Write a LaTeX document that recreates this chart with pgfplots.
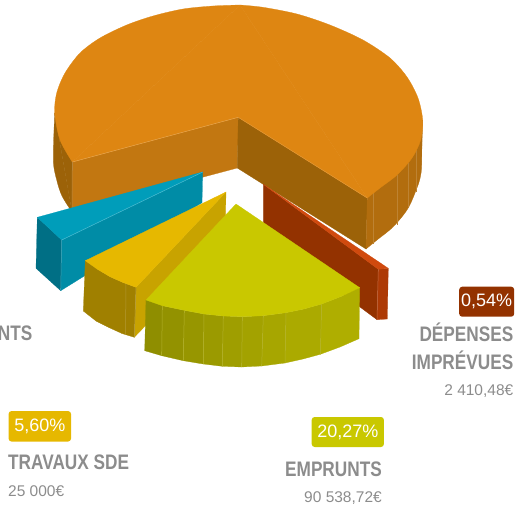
\documentclass[border=0pt]{standalone}
\usepackage{pgfplots}
\pgfplotsset{compat=1.18}
\usepackage{fontspec}
\setmainfont{Liberation Sans}
\newfontfamily\lblfont[FakeStretch=0.82]{Liberation Sans}
\definecolor{org}{HTML}{DE8612}
\definecolor{orgA}{HTML}{C27711}
\definecolor{orgB}{HTML}{9C6208}
\definecolor{orgC}{HTML}{B26D0E}
\definecolor{tlA}{HTML}{009DBA}
\definecolor{tlB}{HTML}{008CA6}
\definecolor{tlC}{HTML}{006F85}
\definecolor{ylA}{HTML}{E6B800}
\definecolor{ylB}{HTML}{C8A300}
\definecolor{ylC}{HTML}{A08000}
\definecolor{rdA}{HTML}{933200}
\definecolor{rdB}{HTML}{D04A0E}
\definecolor{rdC}{HTML}{AD3A05}
\definecolor{grA}{HTML}{C9C800}
\definecolor{txt}{HTML}{8C8C8C}
\newcommand{\lb}{\lblfont\bfseries\fontsize{21}{24}\selectfont\color{txt}}
\newcommand{\vl}{\fontsize{15.5}{18}\selectfont\color{txt}}
\newcommand{\pc}{\fontsize{18}{20}\selectfont\color{white}}
\begin{document}
\begin{tikzpicture}
\begin{axis}[
  name=pie,
  hide axis, scale only axis, width=515pt, height=506pt,
  xmin=0, xmax=515, ymin=0, ymax=506, y dir=reverse,
  clip=false, no markers,
  poly/.style={draw=#1, fill=#1, line width=0.25pt, forget plot, line join=round},
  seam/.style={draw=#1, line width=0.5pt, forget plot}
]
\addplot[draw=none, forget plot] coordinates {(0,0) (515,506)};
% ORANGE: walls
\addplot[poly=orgB, smooth] coordinates {(54.7,113) (53.3,160) (56.7,180) (62,196) (72,212)} -- cycle;
\addplot[poly=orgB] coordinates {(54.7,113) (72.3,162) (72,212)} -- cycle;
\addplot[poly=orgA] coordinates {(72.3,162) (238.3,117.3) (237.3,168) (72,212)} -- cycle;
\addplot[poly=orgB] coordinates {(238.3,117.3) (367.3,198) (366,249) (237.3,168)} -- cycle;
\addplot[poly=orgC] coordinates {(422.7,120) (367.3,198) (366,249) (421,173)} -- cycle;
\addplot[poly=orgC, smooth] coordinates {(366,249) (377,240) (393,227) (407,210) (415,193) (421,173) (422,133)} -- cycle;
\addplot[seam=orgC!85!white] coordinates {(373,193) (373,244)};
\addplot[seam=orgC!85!white] coordinates {(397,175) (397,225)};
\addplot[seam=orgC!85!white] coordinates {(408,163) (408,208)};
\addplot[seam=orgC!85!white] coordinates {(416,150) (416,192)};
% ORANGE: top, with the cut at the centre
\addplot[poly=org] coordinates {(72.3,162) (240,5) (367.3,198) (238.3,117.3)} -- cycle;
\addplot[poly=org, smooth] coordinates {(72.3,162) (60,140) (54.7,113) (56.7,93) (65,73) (80,53) (100,38) (126.7,25) (153,16) (183,9) (213,6) (240,5)} -- cycle;
\addplot[poly=org, smooth] coordinates {(240,5) (263,7.3) (297,14) (330,25) (363,40) (390,58) (407,77) (418,98) (422.7,120) (420.7,140) (412,158) (397,175) (380,188) (367.3,198)} -- cycle;
\addplot[seam=org!75!white] coordinates {(72.3,162) (238.3,117.3)};
\addplot[seam=org!85!white] coordinates {(238.3,117.3) (367.3,198)};
\addplot[seam=orgB!75!white] coordinates {(72.3,162) (72,212)};
% TEAL
\addplot[poly=tlB] coordinates {(61.7,240) (202.7,172) (202,202.7) (60.7,290.7)} -- cycle;
\addplot[poly=tlC] coordinates {(37.3,217.3) (61.7,240) (60.7,290.7) (36,268.3)} -- cycle;
\addplot[poly=tlA] coordinates {(202.7,172) (37.3,217.3) (61.7,240)} -- cycle;
\addplot[seam=tlA!70!white] coordinates {(61.7,240) (202.7,172)};
\addplot[seam=tlB!75!white] coordinates {(61.7,240) (60.7,290.7)};
% YELLOW
\addplot[poly=ylB] coordinates {(226,192) (136,287.3) (134.3,337.3) (225,243)} -- cycle;
\addplot[poly=ylC] coordinates {(85.3,260.7) (97,269) (110,276.7) (123,282.5) (136,287.3) (134.3,337.3) (122,333.5) (110,328) (96,321) (83.3,311)} -- cycle;
\addplot[seam=ylC!80!white] coordinates {(126,284) (125.5,334.5)};
\addplot[seam=ylC!75!white] coordinates {(136,287.3) (134.3,337.3)};
\addplot[poly=ylA] coordinates {(226,192) (85.3,260.7) (97,269) (110,276.7) (123,282.5) (136,287.3)} -- cycle;
% RED
\addplot[poly=rdA] coordinates {(263.3,184.3) (378.3,269.3) (377,319.7) (263.3,235)} -- cycle;
\addplot[poly=rdC] coordinates {(378.3,269.3) (388.3,268.3) (387.3,319) (377,319.7)} -- cycle;
\addplot[poly=rdB] coordinates {(263.3,184.3) (388.3,268.3) (378.3,269.3)} -- cycle;
\addplot[seam=rdC!75!white] coordinates {(378.3,269.3) (377,319.7)};
% GREEN walls
\addplot[poly=grA!71!black] coordinates {(146,300) (162.3,305.7) (161.7,355.7) (144.7,350.7)} -- cycle;
\addplot[poly=grA!73!black] coordinates {(162.3,305.7) (184.3,310.3) (183.3,360.7) (161.7,355.7)} -- cycle;
\addplot[poly=grA!75!black] coordinates {(184.3,310.3) (204,314) (203.3,364) (183.3,360.7)} -- cycle;
\addplot[poly=grA!77!black] coordinates {(204,314) (223.3,316) (222.3,366.3) (203.3,364)} -- cycle;
\addplot[poly=grA!79!black] coordinates {(223.3,316) (242.3,316.7) (241.7,367) (222.3,366.3)} -- cycle;
\addplot[poly=grA!81!black] coordinates {(242.3,316.7) (263.3,315.7) (261.7,366) (241.7,367)} -- cycle;
\addplot[poly=grA!83!black] coordinates {(263.3,315.7) (286,312.7) (285,363) (261.7,366)} -- cycle;
\addplot[poly=grA!85!black] coordinates {(286,312.7) (304,309) (321.7,304) (320.3,354.3) (303,359) (285,363)} -- cycle;
\addplot[poly=grA!87!black] coordinates {(321.7,304) (341,296.5) (359.7,287.7) (359,338.7) (340,347) (320.3,354.3)} -- cycle;
\addplot[seam=grA!80!white!85!black] coordinates {(162.3,305.7) (161.7,355.7)};
\addplot[seam=grA!80!white!85!black] coordinates {(184.3,310.3) (183.3,360.7)};
\addplot[seam=grA!80!white!85!black] coordinates {(204,314) (203.3,364)};
\addplot[seam=grA!80!white!85!black] coordinates {(223.3,316) (222.3,366.3)};
\addplot[seam=grA!80!white!85!black] coordinates {(242.3,316.7) (241.7,367)};
\addplot[seam=grA!80!white!85!black] coordinates {(263.3,315.7) (261.7,366)};
\addplot[seam=grA!80!white!85!black] coordinates {(286,312.7) (285,363)};
\addplot[seam=grA!80!white!85!black] coordinates {(321.7,304) (320.3,354.3)};
% GREEN top
\addplot[poly=grA] coordinates {(236,204) (359.7,287.7) (341,296.5) (321.7,304) (304,309) (286,312.7) (263.3,315.7) (242.3,316.7) (223.3,316) (204,314) (184.3,310.3) (162.3,305.7) (146,300)} -- cycle;
% Labels
\node[fill=rdA, rounded corners=3pt, minimum width=55pt, minimum height=30pt, inner sep=0pt, anchor=center] at (axis cs:486.7,301.7) {\pc 0,54\%};
\node[fill=ylA, rounded corners=3pt, minimum width=62.5pt, minimum height=30.5pt, inner sep=0pt, anchor=center] at (axis cs:39.8,426.3) {\pc 5,60\%};
\node[fill=grA, rounded corners=3pt, minimum width=72.3pt, minimum height=30pt, inner sep=0pt, anchor=center] at (axis cs:347.8,432) {\pc 20,27\%};
\node[anchor=base east, inner sep=0pt] at (axis cs:513.5,341.7) {\lb DÉPENSES};
\node[anchor=base east, inner sep=0pt] at (axis cs:513.5,369) {\lb IMPRÉVUES};
\node[anchor=base east, inner sep=0pt] at (axis cs:513.5,395) {\vl 2 410,48€};
\node[anchor=base west, inner sep=0pt] at (axis cs:8,469.3) {\lb TRAVAUX SDE};
\node[anchor=base west, inner sep=0pt] at (axis cs:8,496) {\vl 25 000€};
\node[anchor=base east, inner sep=0pt] at (axis cs:382,476) {\lb EMPRUNTS};
\node[anchor=base east, inner sep=0pt] at (axis cs:382,502) {\vl 90 538,72€};
\node[anchor=base east, inner sep=0pt] at (axis cs:32.5,340) {\lb NTS};
\end{axis}
\pgfresetboundingbox
\useasboundingbox (pie.south west) rectangle (pie.north east);
\end{tikzpicture}
\end{document}
